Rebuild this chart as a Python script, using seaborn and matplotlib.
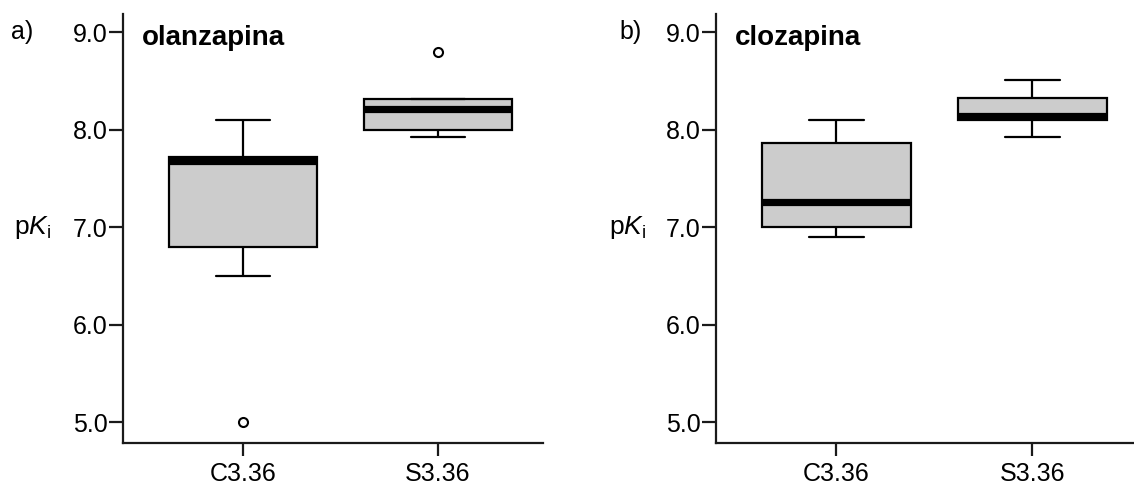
import numpy as np
import pandas as pd
import matplotlib
matplotlib.use("Agg")
import matplotlib.pyplot as plt
import seaborn as sns

# --- Data (pKi values per receptor variant) ---
mutantes = ["C3.36", "S3.36"]

olanz_C336 = [5.0, 6.5, 6.8, 7.3, 7.68, 7.7, 7.72, 7.9, 8.1]
olanz_S336 = [7.92, 7.98, 8.0, 8.1, 8.21, 8.25, 8.31, 8.31, 8.8]

cloz_C336 = [6.9, 6.95, 7.0, 7.1, 7.26, 7.5, 7.86, 8.0, 8.1]
cloz_S336 = [7.92, 8.0, 8.1, 8.12, 8.14, 8.2, 8.32, 8.4, 8.51]

farmacos = ["olanzapina", "clozapina"]
paneles = ["a)", "b)"]
yticks = [5.0, 6.0, 7.0, 8.0, 9.0]

sns.set_style("white")
plt.rcParams["font.family"] = ["Liberation Sans", "DejaVu Sans"]
plt.rcParams["mathtext.fontset"] = "custom"
plt.rcParams["mathtext.rm"] = "Liberation Sans"
plt.rcParams["mathtext.it"] = "Liberation Sans:italic"
plt.rcParams["text.color"] = "black"
plt.rcParams["xtick.color"] = "black"
plt.rcParams["ytick.color"] = "black"

FS = 18
BOX_W = 0.76


def make_df(c_vals, s_vals):
    return pd.DataFrame({
        "mutante": [mutantes[0]] * len(c_vals) + [mutantes[1]] * len(s_vals),
        "pKi": c_vals + s_vals,
    })


datos = [make_df(olanz_C336, olanz_S336), make_df(cloz_C336, cloz_S336)]

fig = plt.figure(figsize=(11.34, 4.88), dpi=100)
axes = [
    fig.add_axes([0.1085, 0.0922, 0.3704, 0.879]),
    fig.add_axes([0.6314, 0.0922, 0.3686, 0.879]),
]

label_x = [0.010, 0.546]
pk_x = [0.012, 0.537]

for i, ax in enumerate(axes):
    sns.boxplot(
        data=datos[i], x="mutante", y="pKi", ax=ax,
        color="#cccccc", saturation=1, width=BOX_W,
        linecolor="black", linewidth=1.6,
        capwidths=0.28,
        medianprops=dict(linewidth=5.2, color="black"),
        flierprops=dict(marker="o", markersize=6.5, markerfacecolor="white",
                        markeredgecolor="black", markeredgewidth=1.5),
    )
    ax.set_xlim(-0.615, 1.54 if i == 0 else 1.52)
    ax.set_ylim(4.785, 9.185)
    ax.set_yticks(yticks)
    ax.set_yticklabels([f"{v:.1f}" for v in yticks])
    ax.set_xlabel("")
    ax.set_ylabel("")
    sns.despine(ax=ax)
    for side in ["left", "bottom"]:
        ax.spines[side].set_linewidth(1.6)
        ax.spines[side].set_color("#1a1a1a")
    ax.tick_params(axis="y", direction="out", length=10, width=1.6, pad=1,
                   labelsize=FS, left=True, color="#1a1a1a")
    ax.tick_params(axis="x", direction="out", length=9.5, width=1.6, pad=4.5,
                   labelsize=18, bottom=True, color="#1a1a1a")
    ax.text(0.045, 0.975, farmacos[i], transform=ax.transAxes, fontsize=20,
            fontweight="bold", va="top", ha="left")

    # panel letter and y label, placed in figure coords
    y9 = ax.transData.transform((0, 9.0))[1]
    y7 = ax.transData.transform((0, 7.0))[1]
    fy9 = fig.transFigure.inverted().transform((0, y9))[1]
    fy7 = fig.transFigure.inverted().transform((0, y7))[1]
    fig.text(label_x[i], fy9, paneles[i], fontsize=FS, va="center", ha="left")
    fig.text(pk_x[i], fy7, r"p$\mathit{K}_\mathrm{i}$", fontsize=19,
             va="center", ha="left")

fig.savefig("out.png", dpi=100)
